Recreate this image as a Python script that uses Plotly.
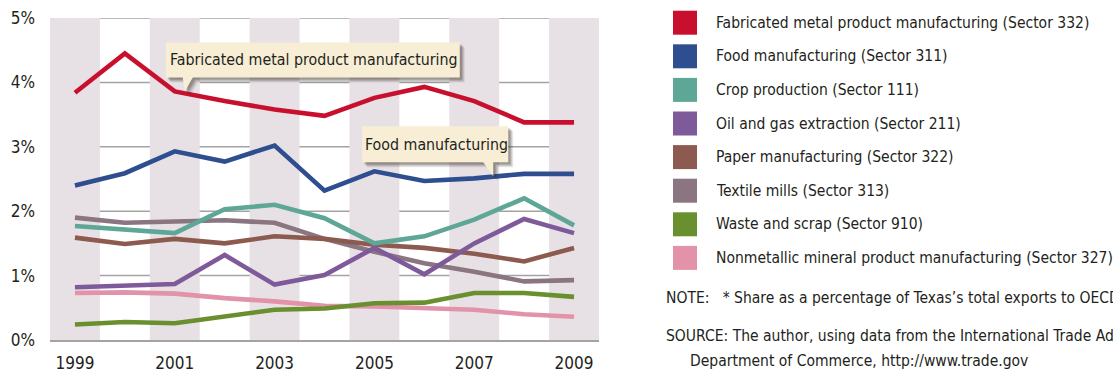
import plotly.graph_objects as go

# Share of Texas exports to OECD countries, by sector (percent)
years = list(range(1999, 2010))
fabricated = [3.84, 4.45, 3.86, 3.71, 3.58, 3.48, 3.76, 3.93, 3.71, 3.38, 3.38]
food = [2.40, 2.59, 2.93, 2.77, 3.02, 2.32, 2.62, 2.47, 2.51, 2.58, 2.58]
crop = [1.77, 1.71, 1.66, 2.03, 2.10, 1.89, 1.50, 1.61, 1.87, 2.20, 1.78]
oil_gas = [0.82, 0.84, 0.87, 1.32, 0.86, 1.01, 1.43, 1.02, 1.50, 1.88, 1.66]
paper = [1.59, 1.49, 1.57, 1.50, 1.61, 1.57, 1.48, 1.43, 1.34, 1.22, 1.43]
textile = [1.90, 1.82, 1.84, 1.86, 1.82, 1.57, 1.37, 1.19, 1.06, 0.91, 0.93]
waste = [0.24, 0.28, 0.26, 0.37, 0.47, 0.49, 0.57, 0.58, 0.73, 0.73, 0.67]
nonmetallic = [0.73, 0.74, 0.72, 0.65, 0.60, 0.53, 0.52, 0.50, 0.47, 0.40, 0.36]

series_names = [
    "Fabricated metal product manufacturing (Sector 332)",
    "Food manufacturing (Sector 311)",
    "Crop production (Sector 111)",
    "Oil and gas extraction (Sector 211)",
    "Paper manufacturing (Sector 322)",
    "Textile mills (Sector 313)",
    "Waste and scrap (Sector 910)",
    "Nonmetallic mineral product manufacturing (Sector 327)",
]
series_values = [fabricated, food, crop, oil_gas, paper, textile, waste, nonmetallic]
series_colors = ["#c8102e", "#2e4e8f", "#5ea797", "#7f5a9b", "#8c5a4f",
                 "#8a7580", "#6a8f2f", "#e293aa"]

y_ticks = [0, 1, 2, 3, 4, 5]
y_tick_labels = ["0%", "1%", "2%", "3%", "4%", "5%"]
x_ticks = [1999, 2001, 2003, 2005, 2007, 2009]

NBSP = "\u00a0"
note_text = f"NOTE:{NBSP * 3}* Share as a percentage of Texas’s total exports to OECD countries"
source_lines = [f"SOURCE:{NBSP}The author, using data from the International Trade Administration, U.S.",
                "Department of Commerce, http://www.trade.gov"]

FONT = "DejaVu Sans Condensed, Liberation Sans Narrow, sans-serif"
TEXT = "#231f20"

W, H = 1113, 375
L, R, T, B = 50, 514, 18, 35
PW = W - L - R
PH = H - T - B


def px_x(px):
    return (px - L) / PW


def px_y(py):
    return 1 - (py - T) / PH


fig = go.Figure()

# draw lower series first so the two headline series sit on top
for name, vals, col in reversed(list(zip(series_names, series_values, series_colors))):
    fig.add_trace(go.Scatter(x=years, y=vals, mode="lines", name=name,
                             line=dict(color=col, width=4.6), showlegend=False,
                             hoverinfo="skip"))

shapes = []
# alternating shaded year columns
for yr in years[::2]:
    shapes.append(dict(type="rect", xref="x", yref="y", x0=yr - 0.5, x1=yr + 0.5,
                       y0=0, y1=5, fillcolor="#e7e1e6", line=dict(width=0), layer="below"))
# horizontal grid
for v in y_ticks[1:]:
    shapes.append(dict(type="line", xref="paper", yref="y", x0=0, x1=1, y0=v, y1=v,
                       line=dict(color="#a3a3a3", width=1.5), layer="below"))


def callout(anchor_x, anchor_y, box, tri, label):
    """Callout bubble drawn in pixel offsets from a point on a series."""
    x0, x1, y0, y1 = box
    (ax, ay), (tx, ty), (bx, by) = tri

    def path(dx, dy):
        pts = [(x0, y0), (ax, ay), (tx, ty), (bx, by), (x1, y0), (x1, y1), (x0, y1)]
        return "M " + " L ".join(f"{p[0] + dx},{p[1] + dy}" for p in pts) + " Z"

    for dx, dy, op in [(5, -5, 0.10), (4, -4, 0.14), (3, -3, 0.18), (2, -2, 0.2)]:
        shapes.append(dict(type="path", xref="x", yref="y", xsizemode="pixel",
                           ysizemode="pixel", xanchor=anchor_x, yanchor=anchor_y,
                           path=path(dx, dy), fillcolor=f"rgba(60,50,40,{op})",
                           line=dict(width=0)))
    shapes.append(dict(type="path", xref="x", yref="y", xsizemode="pixel",
                       ysizemode="pixel", xanchor=anchor_x, yanchor=anchor_y,
                       path=path(0, 0), fillcolor="#f8eed5", line=dict(width=0)))
    fig.add_annotation(x=anchor_x, y=anchor_y, xref="x", yref="y",
                       xshift=(x0 + x1) / 2 + 1, yshift=(y0 + y1) / 2, text=label,
                       showarrow=False, font=dict(family=FONT, size=15.8, color=TEXT))


i01 = years.index(2001)
callout(2001, fabricated[i01], box=(-9, 285, 14, 49),
        tri=((8, 14), (10, 0), (18, 14)), label="Fabricated metal product manufacturing")
i07 = years.index(2007)
callout(2007, food[i07], box=(-112, 34, 16, 52),
        tri=((9, 16), (19, 2), (19, 16)), label="Food manufacturing")

# legend built from swatches and labels
row_y0, row_gap = 22.7, 33.6
for k, (name, col) in enumerate(zip(series_names, series_colors)):
    cy = row_y0 + k * row_gap
    shapes.append(dict(type="rect", xref="paper", yref="paper",
                       x0=px_x(673), x1=px_x(697), y0=px_y(cy + 12), y1=px_y(cy - 12),
                       fillcolor=col, line=dict(width=0)))
    fig.add_annotation(x=px_x(714), y=px_y(cy), xref="paper", yref="paper",
                       xanchor="left", yanchor="middle", text=name, showarrow=False,
                       font=dict(family=FONT, size=15.5, color=TEXT))

fig.add_annotation(x=px_x(664), y=px_y(298), xref="paper", yref="paper",
                   xanchor="left", yanchor="middle", text=note_text, showarrow=False,
                   font=dict(family=FONT, size=15.5, color=TEXT))
fig.add_annotation(x=px_x(664), y=px_y(336), xref="paper", yref="paper",
                   xanchor="left", yanchor="middle", text=source_lines[0], showarrow=False,
                   font=dict(family=FONT, size=15.5, color=TEXT))
fig.add_annotation(x=px_x(688), y=px_y(361), xref="paper", yref="paper",
                   xanchor="left", yanchor="middle", text=source_lines[1], showarrow=False,
                   font=dict(family=FONT, size=15.5, color=TEXT))

fig.update_layout(
    width=W, height=H,
    margin=dict(l=L, r=R, t=T, b=B),
    paper_bgcolor="white", plot_bgcolor="white",
    shapes=shapes,
    xaxis=dict(range=[1998.5, 2009.5], tickvals=x_ticks, ticktext=[str(v) for v in x_ticks],
               showgrid=False, zeroline=False, showline=True, linecolor="#a3a3a3",
               linewidth=1.5, ticks="", ticklabelstandoff=7, automargin=False,
               tickfont=dict(family=FONT, size=17, color=TEXT)),
    yaxis=dict(range=[0, 5], tickvals=y_ticks, ticktext=y_tick_labels, showgrid=False,
               zeroline=False, ticks="", ticklabelstandoff=14, automargin=False,
               tickfont=dict(family=FONT, size=17, color=TEXT)),
)

fig.write_html("out.html")
